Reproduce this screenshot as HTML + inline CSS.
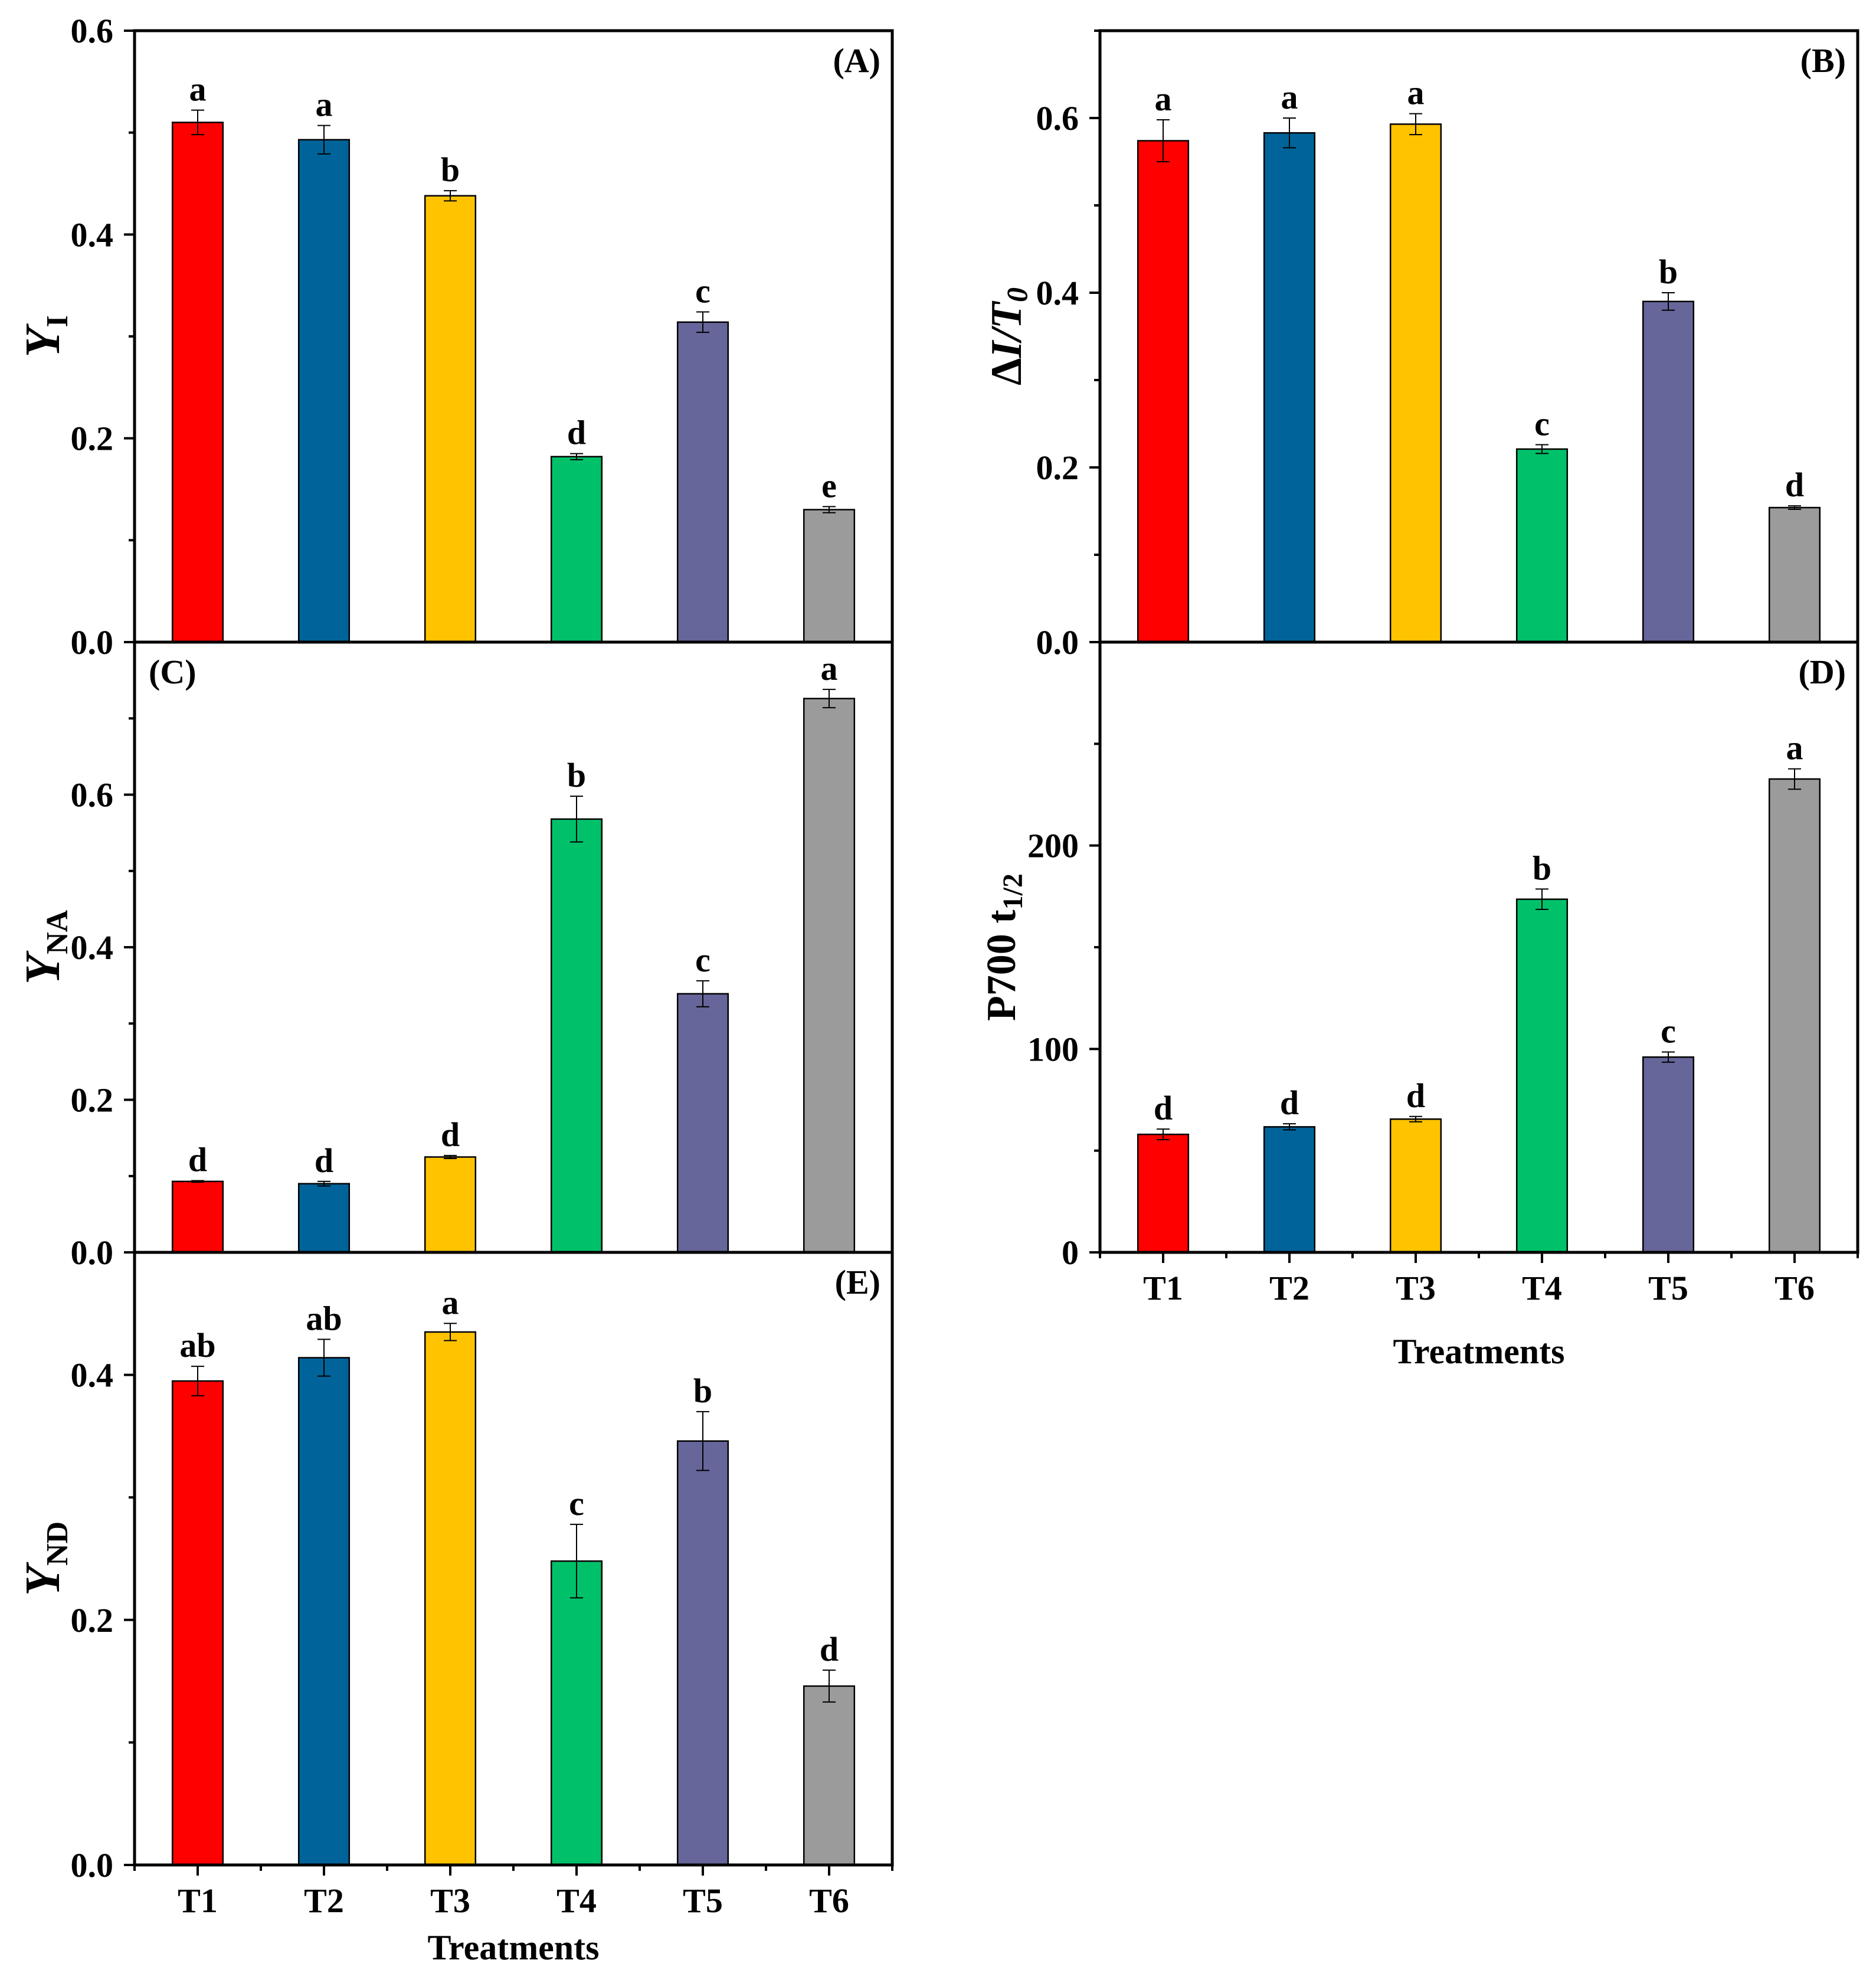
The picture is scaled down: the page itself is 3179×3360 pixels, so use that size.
<!DOCTYPE html>
<html><head><meta charset="utf-8"><style>
html,body{margin:0;padding:0;background:#fff}
svg{display:block}
text{font-family:"Liberation Serif",serif;font-weight:bold;fill:#000}
</style></head><body>
<svg id="chart" xmlns="http://www.w3.org/2000/svg" width="3179" height="3360" viewBox="0 0 3179 3360"></svg>
<script>
const categories = ["T1","T2","T3","T4","T5","T6"];
const colors = ["#FF0000","#00649A","#FFC300","#00C16A","#66669A","#9B9B9B"];

const valuesA = [0.510,0.493,0.438,0.182,0.314,0.130];
const errorsA = [0.012,0.014,0.005,0.003,0.010,0.003];
const lettersA = ["a","a","b","d","c","e"];
const ticksA = ["0.0","0.2","0.4","0.6"];

const valuesB = [0.574,0.583,0.593,0.221,0.390,0.154];
const errorsB = [0.024,0.017,0.012,0.005,0.010,0.002];
const lettersB = ["a","a","a","c","b","d"];
const ticksB = ["0.0","0.2","0.4","0.6"];

const valuesC = [0.093,0.090,0.125,0.568,0.339,0.726];
const errorsC = [0.001,0.003,0.002,0.030,0.017,0.012];
const lettersC = ["d","d","d","b","c","a"];
const ticksC = ["0.0","0.2","0.4","0.6"];

const valuesD = [58,61.7,65.5,173.6,96,232.7];
const errorsD = [2.6,1.5,1.3,5,2.5,5];
const lettersD = ["d","d","d","b","c","a"];
const ticksD = ["0","100","200"];

const valuesE = [0.395,0.414,0.435,0.248,0.346,0.146];
const errorsE = [0.012,0.015,0.007,0.030,0.024,0.013];
const lettersE = ["ab","ab","a","c","b","d"];
const ticksE = ["0.0","0.2","0.4"];

const NS = "http://www.w3.org/2000/svg";
const svg = document.getElementById("chart");
function mk(tag, attrs, parent){
  const e = document.createElementNS(NS, tag);
  for (const k in attrs) e.setAttribute(k, attrs[k]);
  (parent||svg).appendChild(e);
  return e;
}
function txt(str, x, y, size, anchor, parent, extra){
  const t = mk("text", Object.assign({x:x, y:y, "font-size":size, "text-anchor":anchor||"middle"}, extra||{}), parent);
  t.textContent = str;
  return t;
}

function panel(cfg){
  const g = mk("g", {});
  
  
  const L = cfg.x0, R = cfg.x1, T = cfg.y0, B = cfg.y1;
  const yScale = v => B - (v - cfg.min) / (cfg.max - cfg.min) * (B - T);
  const band = (R - L) / categories.length;
  const xCenter = i => L + band * (i + 0.5);
  const bw = band * 0.4;
  cfg.values.forEach((v, i) => {
    const y = yScale(v);
    const r = mk("rect", {x: xCenter(i) - bw/2, y: y, width: bw, height: B - y, fill: colors[i], stroke: "#000", "stroke-width": 2.5}, g);
    
    
    const e = cfg.errors[i];
    const yt = yScale(v + e), yb = yScale(v - e);
    const eb = mk("path", {d: `M${xCenter(i)},${yt}V${yb}M${xCenter(i)-11},${yt}H${xCenter(i)+11}M${xCenter(i)-11},${yb}H${xCenter(i)+11}`, stroke: "#000", "stroke-width": 2, fill: "none"}, g);
    
    
    const lt = txt(cfg.letters[i], xCenter(i), yt - 16, 58, "middle", g);
    
    
  });
  const fr = mk("rect", {x: L, y: T, width: R - L, height: B - T, fill: "none", stroke: "#000", "stroke-width": 5}, g);
  
  
  for (let v = cfg.min; v <= cfg.max + 1e-9; v += cfg.minor) {
    const y = yScale(v);
    const isMajor = Math.abs(Math.round(v / cfg.major) * cfg.major - v) < 1e-6;
    mk("line", {x1: L - (isMajor ? 18 : 10), x2: L, y1: y, y2: y, stroke: "#000", "stroke-width": 4}, g);
  }
  cfg.ticks.forEach(s => {
    const y = yScale(parseFloat(s));
    const tl = txt(s, L - 36, y + 20, 58, "end", g);
    
    
  });
  if (cfg.xaxis) {
    for (let i = 0; i <= categories.length; i++) {
      mk("line", {x1: L + band*i, x2: L + band*i, y1: B, y2: B + 10, stroke: "#000", "stroke-width": 4}, g);
    }
    categories.forEach((c, i) => {
      mk("line", {x1: xCenter(i), x2: xCenter(i), y1: B, y2: B + 18, stroke: "#000", "stroke-width": 4}, g);
      const xl = txt(c, xCenter(i), B + 80, 58, "middle", g);
      
      
    });
    const xt = txt("Treatments", (L + R) / 2, B + cfg.xTitleOffset, 60, "middle", g);
    
    
  }
  const pl = txt(cfg.label, cfg.labelRight ? R - 20 : L + 24, T + 70, 58, cfg.labelRight ? "end" : "start", g);
  
  
  const yt = mk("text", {transform: `translate(${cfg.titleX},${(T + B) / 2}) rotate(-90)`, "text-anchor": "middle", "font-size": cfg.titleSize}, g);
  
  
  yt.innerHTML = cfg.title;
  return g;
}

panel({name:"panel-a", x0:228, x1:1512, y0:52, y1:1088, min:0, max:0.6, major:0.2, minor:0.1,
  values:valuesA, errors:errorsA, letters:lettersA, ticks:ticksA, label:"(A)", labelRight:true,
  titleX:100, titleSize:84, title:'<tspan font-style="italic">Y</tspan><tspan font-size="52" dy="14">I</tspan>'});
panel({name:"panel-c", x0:228, x1:1512, y0:1088, y1:2122, min:0, max:0.8, major:0.2, minor:0.1,
  values:valuesC, errors:errorsC, letters:lettersC, ticks:ticksC, label:"(C)", labelRight:false,
  titleX:100, titleSize:84, title:'<tspan font-style="italic">Y</tspan><tspan font-size="52" dy="14">NA</tspan>'});
panel({name:"panel-e", x0:228, x1:1512, y0:2122, y1:3160, min:0, max:0.5, major:0.2, minor:0.1,
  values:valuesE, errors:errorsE, letters:lettersE, ticks:ticksE, label:"(E)", labelRight:true, xaxis:true, xTitleOffset:160,
  titleX:100, titleSize:84, title:'<tspan font-style="italic">Y</tspan><tspan font-size="52" dy="14">ND</tspan>'});
panel({name:"panel-b", x0:1864, x1:3148, y0:52, y1:1088, min:0, max:0.7, major:0.2, minor:0.1,
  values:valuesB, errors:errorsB, letters:lettersB, ticks:ticksB, label:"(B)", labelRight:true,
  titleX:1730, titleSize:74, title:'Δ<tspan font-style="italic">I/T</tspan><tspan font-style="italic" font-size="50" dy="10">0</tspan>'});
panel({name:"panel-d", x0:1864, x1:3148, y0:1088, y1:2122, min:0, max:300, major:100, minor:50,
  values:valuesD, errors:errorsD, letters:lettersD, ticks:ticksD, label:"(D)", labelRight:true, xaxis:true, xTitleOffset:188,
  titleX:1720, titleSize:70, title:'P700 t<tspan font-size="48" dy="12">1/2</tspan>'});
</script>
</body></html>
